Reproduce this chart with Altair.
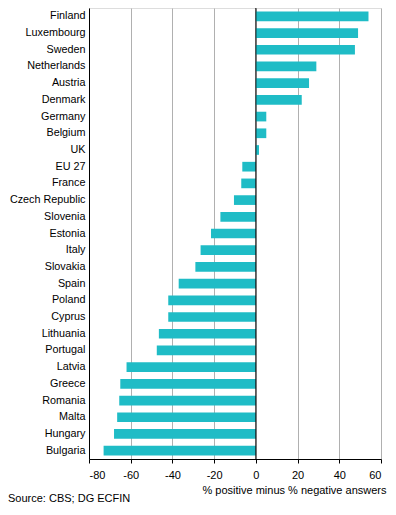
import altair as alt
import pandas as pd

countries = ["Finland", "Luxembourg", "Sweden", "Netherlands", "Austria", "Denmark",
             "Germany", "Belgium", "UK", "EU 27", "France", "Czech Republic", "Slovenia",
             "Estonia", "Italy", "Slovakia", "Spain", "Poland", "Cyprus", "Lithuania",
             "Portugal", "Latvia", "Greece", "Romania", "Malta", "Hungary", "Bulgaria"]
values = [54, 49, 47.5, 29, 25.5, 22, 5, 5, 1.5, -6.5, -7, -10.5, -17, -21.5, -26.5,
          -29, -37, -42, -42, -46.5, -47.5, -62, -65, -65.5, -66.5, -68, -73]

df = pd.DataFrame({"country": countries, "value": values})

FONT = "Liberation Sans"

bars = alt.Chart(df).mark_bar(color="#1fbcc6").encode(
    x=alt.X("value:Q",
            scale=alt.Scale(domain=[-80, 60], nice=False),
            axis=alt.Axis(values=[-80, -60, -40, -20, 0, 20, 40, 60],
                          labelExpr="'' + datum.value",
                          title="% positive minus % negative answers",
                          titleAnchor="end", titleAlign="right",
                          titleX=297, titleY=34, titleBaseline="alphabetic",
                          titleFont=FONT, titleFontSize=11, titleFontWeight="normal",
                          titleColor="#000000",
                          labelFont=FONT, labelFontSize=11, labelColor="#000000",
                          labelPadding=6, tickSize=4, tickColor="#000000",
                          domainColor="#000000", grid=True, gridColor="#b0b0b0")),
    y=alt.Y("country:N", sort=countries,
            scale=alt.Scale(paddingInner=0.42, paddingOuter=0.21),
            axis=alt.Axis(title=None, ticks=False, labelFont=FONT, labelFontSize=10.8,
                          labelColor="#000000", labelPadding=4, domainColor="#000000",
                          grid=False)),
)

zero = alt.Chart(pd.DataFrame({"z": [0]})).mark_rule(color="#000000", strokeWidth=1).encode(
    x="z:Q"
)

source = alt.Chart(pd.DataFrame({"t": ["Source: CBS; DG ECFIN"]})).mark_text(
    align="left", baseline="alphabetic", font=FONT, fontSize=11, color="#000000"
).encode(text="t:N", x=alt.value(-81), y=alt.value(494))

chart = alt.layer(bars, zero, source).properties(
    width=292, height=451,
    autosize=alt.AutoSizeParams(type="none"),
    padding={"left": 81, "top": 0, "right": 7, "bottom": 48},
).configure_view(stroke="#808080", strokeWidth=1).configure(background="#ffffff")

chart.save("out.html", embed_options={"renderer": "svg", "actions": False})
